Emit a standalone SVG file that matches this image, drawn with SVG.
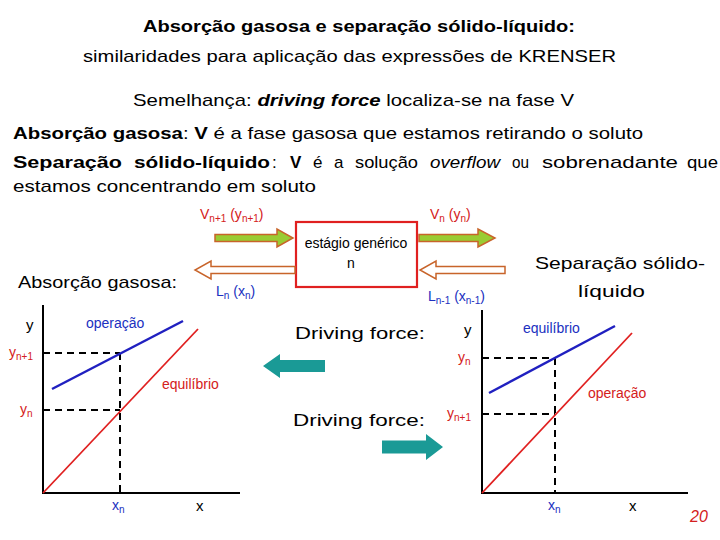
<svg xmlns="http://www.w3.org/2000/svg" width="720" height="540" viewBox="0 0 720 540">
<defs>
<style>
text{font-family:"Liberation Sans","DejaVu Sans",sans-serif;fill:#000}
.t{font-size:17px}
.b{font-weight:bold}
.r{fill:#d42020;font-size:14px}
.bl{fill:#2030c0;font-size:14px}
.sub{font-size:10px}
.axis{stroke:#000;stroke-width:2;fill:none}
.dash{stroke:#000;stroke-width:2;stroke-dasharray:7 5;fill:none}
.op{stroke:#2020c0;stroke-width:2.5;fill:none}
.eq{stroke:#e02020;stroke-width:1.8;fill:none}
.ga{fill:#99cc33;stroke:#c8642a;stroke-width:1.5}
.wa{fill:#fff;stroke:#c8642a;stroke-width:1.5}
.teal{fill:#1a9a96}
</style>
</defs>
<g id="texts">
<text class="t b" x="143" y="32" textLength="432" lengthAdjust="spacingAndGlyphs">Absorção gasosa e separação sólido-líquido:</text>
<text class="t" x="83" y="62" textLength="533" lengthAdjust="spacingAndGlyphs">similaridades para aplicação das expressões de KRENSER</text>
<text class="t" x="133" y="106" textLength="441" lengthAdjust="spacingAndGlyphs">Semelhança: <tspan class="b" font-style="italic">driving force</tspan> localiza-se na fase V</text>
<text class="t" x="13" y="139" textLength="630" lengthAdjust="spacingAndGlyphs"><tspan class="b">Absorção gasosa</tspan>: <tspan class="b">V</tspan> é a fase gasosa que estamos retirando o soluto</text>
<g id="justified-line">
<text class="t b" x="13" y="168" textLength="109" lengthAdjust="spacingAndGlyphs">Separação</text>
<text class="t b" x="134" y="168" textLength="136" lengthAdjust="spacingAndGlyphs">sólido-líquido</text>
<text class="t" x="272" y="168">:</text>
<text class="t b" x="290" y="168">V</text>
<text class="t" x="313" y="168">é</text>
<text class="t" x="334" y="168">a</text>
<text class="t" x="355" y="168" textLength="63" lengthAdjust="spacingAndGlyphs">solução</text>
<text class="t" x="430" y="168" font-style="italic" textLength="70" lengthAdjust="spacingAndGlyphs">overflow</text>
<text class="t" x="512" y="168" textLength="17" lengthAdjust="spacingAndGlyphs">ou</text>
<text class="t" x="542" y="168" textLength="136" lengthAdjust="spacingAndGlyphs">sobrenadante</text>
<text class="t" x="687" y="168" textLength="31" lengthAdjust="spacingAndGlyphs">que</text>
</g>
<text class="t" x="13" y="192" textLength="303" lengthAdjust="spacingAndGlyphs">estamos concentrando em soluto</text>
<text class="t" x="18" y="288" textLength="159" lengthAdjust="spacingAndGlyphs">Absorção gasosa:</text>
<text class="t" x="535" y="269" textLength="170" lengthAdjust="spacingAndGlyphs">Separação sólido-</text>
<text class="t" x="578" y="297" textLength="67" lengthAdjust="spacingAndGlyphs">líquido</text>
<text class="t" x="295" y="339" textLength="130" lengthAdjust="spacingAndGlyphs">Driving force:</text>
<text class="t" x="293" y="426" textLength="132" lengthAdjust="spacingAndGlyphs">Driving force:</text>
<text x="690" y="522" font-size="16" font-style="italic" style="fill:#d42020">20</text>
</g>
<g id="stage">
<rect x="296" y="222" width="121" height="65" fill="#fff" stroke="#e02020" stroke-width="2.2"/>
<text x="356" y="248" font-size="14" text-anchor="middle">estágio genérico</text>
<text x="351" y="268" font-size="14" text-anchor="middle">n</text>
</g>
<g id="stream-labels">
<text class="r" x="200" y="219">V<tspan class="sub" dy="3">n+1</tspan><tspan dy="-3"> (y</tspan><tspan class="sub" dy="3">n+1</tspan><tspan dy="-3">)</tspan></text>
<text class="r" x="430" y="219">V<tspan class="sub" dy="3">n</tspan><tspan dy="-3"> (y</tspan><tspan class="sub" dy="3">n</tspan><tspan dy="-3">)</tspan></text>
<text class="bl" x="216" y="296">L<tspan class="sub" dy="3">n</tspan><tspan dy="-3"> (x</tspan><tspan class="sub" dy="3">n</tspan><tspan dy="-3">)</tspan></text>
<text class="bl" x="428" y="301">L<tspan class="sub" dy="3">n-1</tspan><tspan dy="-3"> (x</tspan><tspan class="sub" dy="3">n-1</tspan><tspan dy="-3">)</tspan></text>
</g>
<g id="connectors">
<polygon class="ga" points="215,234.5 277,234.5 277,229 293,238 277,247 277,241.5 215,241.5"/>
<polygon class="ga" points="419,234.5 478,234.5 478,229 495,238 478,247 478,241.5 419,241.5"/>
<polygon class="wa" points="295,266.5 211,266.5 211,261 195,270 211,279 211,273.5 295,273.5"/>
<polygon class="wa" points="505,266.5 436,266.5 436,261 420,270 436,279 436,273.5 505,273.5"/>
<polygon class="teal" points="263,366 280,354 280,360 325,360 325,372 280,372 280,378"/>
<polygon class="teal" points="382,440.5 426,440.5 426,434 443,447 426,460 426,453.5 382,453.5"/>
</g>
<g id="graph-left">
<polyline class="axis" points="43,305 43,493 240,493"/>
<line class="dash" x1="43" y1="353" x2="120" y2="353"/>
<line class="dash" x1="43" y1="410" x2="120" y2="410"/>
<line class="dash" x1="120" y1="353" x2="120" y2="493"/>
<line class="op" x1="52" y1="389" x2="183" y2="321"/>
<line class="eq" x1="43" y1="493" x2="198" y2="329"/>
<text x="26" y="330" font-size="15">y</text>
<text class="r" x="9" y="357">y<tspan class="sub" dy="3">n+1</tspan></text>
<text class="r" x="20" y="414">y<tspan class="sub" dy="3">n</tspan></text>
<text class="bl" x="86" y="328">operação</text>
<text class="r" x="162" y="389">equilíbrio</text>
<text class="bl" x="112" y="510">x<tspan class="sub" dy="3">n</tspan></text>
<text x="196" y="511" font-size="15">x</text>
</g>
<g id="graph-right">
<polyline class="axis" points="482,310 482,493 688,493"/>
<line class="dash" x1="482" y1="358" x2="555" y2="358"/>
<line class="dash" x1="482" y1="414" x2="555" y2="414"/>
<line class="dash" x1="555" y1="358" x2="555" y2="493"/>
<line class="op" x1="489" y1="393" x2="615" y2="326"/>
<line class="eq" x1="482" y1="493" x2="632" y2="333"/>
<text x="464" y="335" font-size="15">y</text>
<text class="r" x="458" y="362">y<tspan class="sub" dy="3">n</tspan></text>
<text class="r" x="447" y="418">y<tspan class="sub" dy="3">n+1</tspan></text>
<text class="bl" x="523" y="333">equilíbrio</text>
<text class="r" x="588" y="398">operação</text>
<text class="bl" x="548" y="510">x<tspan class="sub" dy="3">n</tspan></text>
<text x="629" y="511" font-size="15">x</text>
</g>
</svg>
